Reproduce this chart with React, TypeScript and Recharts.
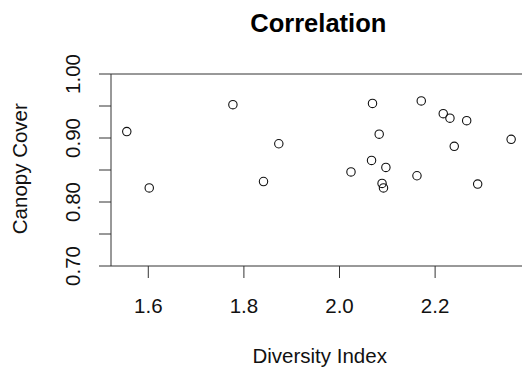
import React from "react";
import { ScatterChart, Scatter, XAxis, YAxis, ReferenceLine } from "recharts";

const diversity = [
  1.555, 1.602, 1.777, 1.873, 1.841, 2.069, 2.171, 2.217, 2.231, 2.266,
  2.359, 2.083, 2.240, 2.067, 2.097, 2.024, 2.162, 2.089, 2.092, 2.289,
];
const canopy = [
  0.910, 0.822, 0.952, 0.891, 0.832, 0.954, 0.958, 0.938, 0.931, 0.927,
  0.898, 0.906, 0.887, 0.865, 0.854, 0.847, 0.841, 0.829, 0.822, 0.828,
];
const xTicks = [1.6, 1.8, 2.0, 2.2];
const yTicks = [0.7, 0.75, 0.8, 0.85, 0.9, 0.95, 1.0];
const yLabelled = ["0.70", "0.80", "0.90", "1.00"];
const xDomain = [1.522, 2.388];
const yDomain = [0.7, 1.0];

const data = diversity.map((d, i) => ({ x: d, y: canopy[i] }));

const FONT = "'Liberation Sans', Arial, sans-serif";
const AXIS = "#333";

const XTick = (props: any) => {
  const { x, payload } = props;
  return (
    <text x={x} y={312.5} textAnchor="middle" fontFamily={FONT} fontSize={20.5} fill="#111">
      {Number(payload.value).toFixed(1)}
    </text>
  );
};

const YTick = (props: any) => {
  const { y, payload } = props;
  const label = Number(payload.value).toFixed(2);
  if (!yLabelled.includes(label)) return <g />;
  return (
    <text
      x={80}
      y={y}
      transform={`rotate(-90, 80, ${y})`}
      textAnchor="middle"
      fontFamily={FONT}
      fontSize={20.5}
      fill="#111"
    >
      {label}
    </text>
  );
};

const TitleLabel = () => (
  <text x={318.3} y={31.7} textAnchor="middle" fontFamily={FONT} fontSize={25.5} fontWeight="bold" fill="#000">
    Correlation
  </text>
);

const XTitle = () => (
  <text x={319.7} y={363} textAnchor="middle" fontFamily={FONT} fontSize={20.5} fill="#111">
    Diversity Index
  </text>
);

const YTitle = () => (
  <text
    x={27.5}
    y={168.7}
    transform="rotate(-90, 27.5, 168.7)"
    textAnchor="middle"
    fontFamily={FONT}
    fontSize={20.5}
    fill="#111"
  >
    Canopy Cover
  </text>
);

const OpenCircle = (props: any) => (
  <circle cx={props.cx} cy={props.cy} r={4.2} fill="none" stroke="#111" strokeWidth={1.1} />
);

export default function App() {
  return (
    <div style={{ position: "absolute", left: 0, top: 0, width: 522, height: 370, overflow: "hidden", background: "#fff" }}>
      <ScatterChart width={526} height={370} margin={{ top: 74, right: 1, bottom: 44, left: 0 }}>
        <XAxis
          type="number"
          dataKey="x"
          domain={xDomain}
          allowDataOverflow
          ticks={xTicks}
          interval={0}
          height={60}
          tickSize={12}
          tick={<XTick />}
          tickLine={{ stroke: AXIS, strokeWidth: 1 }}
          axisLine={{ stroke: AXIS, strokeWidth: 1 }}
          label={<XTitle />}
        />
        <YAxis
          type="number"
          dataKey="y"
          domain={yDomain}
          allowDataOverflow
          ticks={yTicks}
          interval={0}
          width={111}
          tickSize={12}
          tick={<YTick />}
          tickLine={{ stroke: AXIS, strokeWidth: 1 }}
          axisLine={{ stroke: AXIS, strokeWidth: 1 }}
          label={<YTitle />}
        />
        <ReferenceLine y={yDomain[1]} stroke={AXIS} strokeWidth={1} label={<TitleLabel />} />
        <ReferenceLine x={xDomain[1]} stroke={AXIS} strokeWidth={1} />
        <Scatter
          data={data}
          shape={<OpenCircle />}
          isAnimationActive={false}
        />
      </ScatterChart>
    </div>
  );
}
